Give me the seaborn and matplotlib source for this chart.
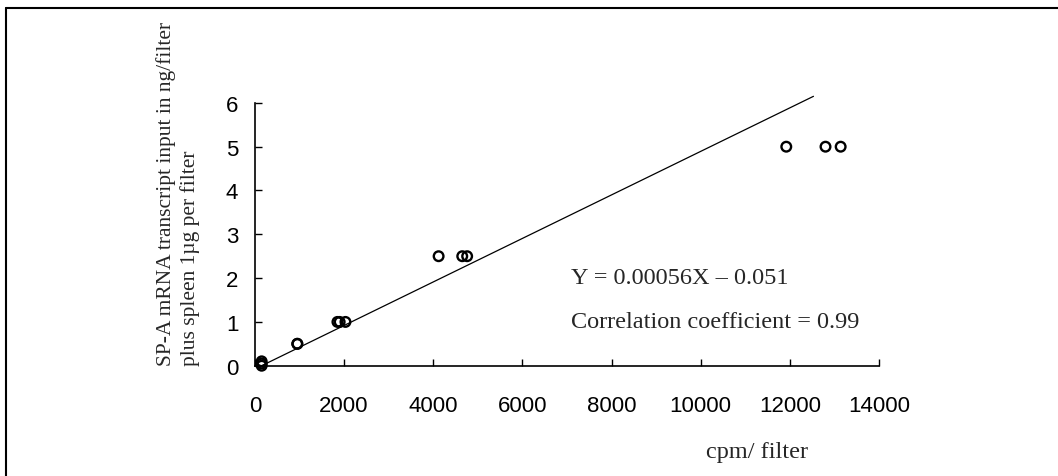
import numpy as np
import pandas as pd
from matplotlib import pyplot as plt
from matplotlib.lines import Line2D
import seaborn as sns

# standard curve data
cpm = [150, 150, 150, 950, 950, 1850, 1900, 2030, 4120, 4650, 4760, 11920, 12800, 13140]
ng_input = [0.0, 0.05, 0.1, 0.5, 0.5, 1.0, 1.0, 1.0, 2.5, 2.5, 2.5, 5.0, 5.0, 5.0]

# drawn regression line (end points as read)
line_cpm = [150, 12530]
line_ng = [0.0, 6.15]

x_ticks = [0, 2000, 4000, 6000, 8000, 10000, 12000, 14000]
y_ticks = [0, 1, 2, 3, 4, 5, 6]

equation = "Y = 0.00056X \u2013 0.051"
correlation = "Correlation coefficient = 0.99"
ylabel = "SP-A mRNA transcript input in ng/filter\nplus spleen 1\u00b5g per filter"
xlabel = "cpm/ filter"

sns.set_style("white")
plt.rcParams['font.family'] = ['Liberation Sans', 'DejaVu Sans']

data = pd.DataFrame({"cpm": cpm, "ng": ng_input})

fig = plt.figure(figsize=(10.58, 4.77), dpi=100)
ax = fig.add_axes([0.2410, 0.2312, 0.5898, 0.551])

sns.lineplot(x=line_cpm, y=line_ng, ax=ax, color="black", linewidth=0.9,
             clip_on=False)
sns.scatterplot(data=data, x="cpm", y="ng", ax=ax,
                marker="o", s=48, facecolor="none", edgecolor="black",
                linewidth=1.7, clip_on=False, zorder=3)

ax.set_xlim(0, 14000)
ax.set_ylim(0, 6)
ax.set_xticks(x_ticks)
ax.set_yticks(y_ticks)
ax.tick_params(axis="both", direction="in", length=5, width=1, colors="black",
               labelsize=16, bottom=True, left=True)
ax.tick_params(axis="x", pad=21)
ax.tick_params(axis="y", pad=12)
sns.despine(ax=ax)
for side in ["left", "bottom"]:
    ax.spines[side].set_linewidth(1.2)
    ax.spines[side].set_color("black")

ax.set_xlabel("")
ax.set_ylabel("")

serif = ['Liberation Serif', 'DejaVu Serif']
ax.text(7080, 2.02, equation, family=serif, fontsize=17.5, va="center", ha="left")
ax.text(7080, 1.0, correlation, family=serif, fontsize=17.5, va="center", ha="left")

fig.text(757 / 1058, 1 - 453 / 477, xlabel, family=serif, fontsize=17.5,
         ha="center", va="center")
fig.text(178 / 1058, 1 - 366 / 477, ylabel, family=serif, fontsize=15.5,
         rotation=90, ha="center", va="bottom", multialignment="left",
         linespacing=1.3)

# outer frame (only top and left edges are visible in the crop)
fig.add_artist(Line2D([6 / 1058, 6 / 1058], [0, 1 - 9 / 477],
                      transform=fig.transFigure, color="black", linewidth=1.5))
fig.add_artist(Line2D([6 / 1058, 1], [1 - 9 / 477, 1 - 9 / 477],
                      transform=fig.transFigure, color="black", linewidth=1.5))

fig.savefig("out.png", dpi=100)
